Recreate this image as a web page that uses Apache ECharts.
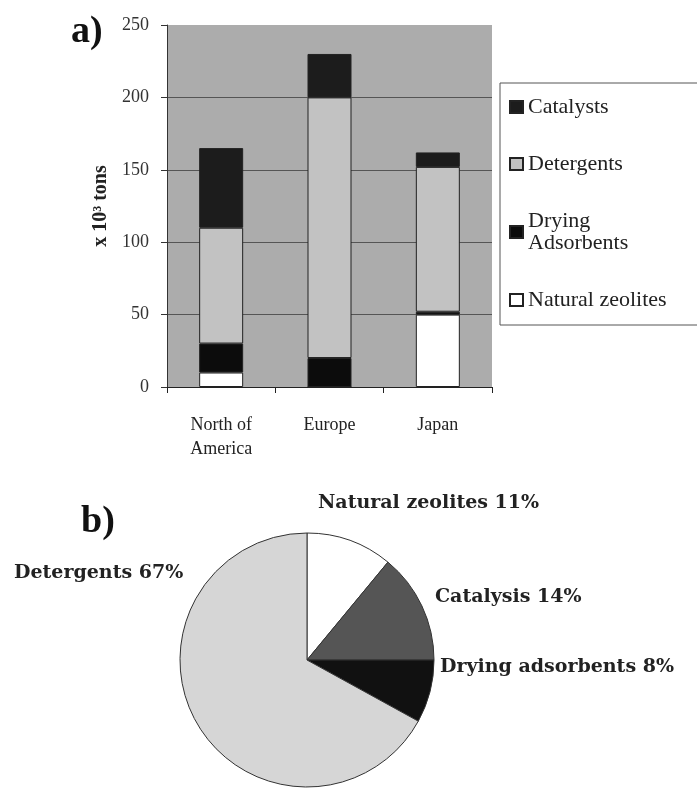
<!DOCTYPE html>
<html>
<head>
<meta charset="utf-8">
<script src="https://cdn.jsdelivr.net/npm/echarts@6/dist/echarts.min.js"></script>
<style>
  html, body { margin: 0; padding: 0; background: #ffffff; }
  #chart { width: 697px; height: 791px; }
</style>
</head>
<body>
<div id="chart"></div>
<script>
// ---- Data ----
const regions = ['North of\nAmerica', 'Europe', 'Japan'];
const naturalZeolites = [10, 0, 50];
const dryingAdsorbents = [20, 20, 2];
const detergents = [80, 180, 100];
const catalysts = [55, 30, 10];
const yTicks = [0, 50, 100, 150, 200, 250];

const pieNames = ['Natural zeolites', 'Catalysis', 'Drying adsorbents', 'Detergents'];
const pieValues = [11, 14, 8, 67];

// ---- Chart ----
const chart = echarts.init(document.getElementById('chart'), null, { renderer: 'canvas' });
const serif = 'Liberation Serif';
const barBorder = { borderColor: '#222', borderWidth: 1 };

const pieColors = ['#ffffff', '#555555', '#111111', '#d6d6d6'];
const pieLabelPos = [
  { x: 318, y: 503 },
  { x: 435, y: 597 },
  { x: 440, y: 667 },
  { x: 14, y: 573 }
];

const option = {
  backgroundColor: '#ffffff',
  animation: false,
  title: [
    { text: 'a)', left: 66, top: 8, textStyle: { fontFamily: serif, fontWeight: 'bold', fontSize: 38, color: '#111' } },
    { text: 'b)', left: 76, top: 498, textStyle: { fontFamily: serif, fontWeight: 'bold', fontSize: 38, color: '#111' } }
  ],
  legend: {
    orient: 'vertical',
    left: 500,
    top: 83,
    data: ['Catalysts', 'Detergents', 'Drying\nAdsorbents', 'Natural zeolites'],
    backgroundColor: '#ffffff',
    borderColor: '#555',
    borderWidth: 1,
    padding: [13, 45, 14, 9],
    itemGap: 35,
    itemWidth: 13,
    itemHeight: 12,
    icon: 'rect',
    textStyle: { fontFamily: serif, fontSize: 22, color: '#222', lineHeight: 22 }
  },
  grid: {
    left: 167, right: 205, top: 25, bottom: 404,
    show: true, backgroundColor: '#acacac', borderWidth: 0
  },
  xAxis: {
    type: 'category',
    data: regions,
    axisLine: { show: true, lineStyle: { color: '#222', width: 1 } },
    axisTick: { show: true, length: 6, lineStyle: { color: '#222' } },
    axisLabel: { fontFamily: serif, fontSize: 18, color: '#222', margin: 26, lineHeight: 24 }
  },
  yAxis: {
    type: 'value',
    min: 0, max: 250, interval: 50,
    name: 'x 10³ tons',
    nameLocation: 'middle',
    nameGap: 56,
    nameRotate: 90,
    nameTextStyle: { fontFamily: serif, fontWeight: 'bold', fontSize: 20, color: '#222' },
    axisLine: { show: true, lineStyle: { color: '#333', width: 1 } },
    axisTick: { show: true, length: 6, lineStyle: { color: '#333' } },
    axisLabel: { fontFamily: serif, fontSize: 18, color: '#333', margin: 18,
      formatter: v => (yTicks.indexOf(v) >= 0 ? String(v) : '') },
    splitLine: { show: true, lineStyle: { color: ['#555', '#555', '#555', '#555', '#555', 'rgba(0,0,0,0)'], width: 1 } }
  },
  series: [
    { name: 'Natural zeolites', type: 'bar', stack: 's', barWidth: 44, data: naturalZeolites,
      itemStyle: Object.assign({ color: '#ffffff' }, barBorder) },
    { name: 'Drying\nAdsorbents', type: 'bar', stack: 's', barWidth: 44, data: dryingAdsorbents,
      itemStyle: Object.assign({ color: '#0c0c0c' }, barBorder) },
    { name: 'Detergents', type: 'bar', stack: 's', barWidth: 44, data: detergents,
      itemStyle: Object.assign({ color: '#c2c2c2' }, barBorder) },
    { name: 'Catalysts', type: 'bar', stack: 's', barWidth: 44, data: catalysts,
      itemStyle: Object.assign({ color: '#1c1c1c' }, barBorder) },
    {
      name: 'pie', type: 'pie',
      center: [307, 660], radius: 127,
      startAngle: 90, clockwise: true,
      legendHoverLink: false,
      data: pieNames.map((n, i) => ({ name: n, value: pieValues[i], itemStyle: { color: pieColors[i] } })),
      itemStyle: { borderColor: '#333', borderWidth: 1 },
      label: {
        show: true,
        position: 'outside',
        overflow: 'none',
        width: 400,
        formatter: p => p.name + ' ' + p.value + '%',
        fontFamily: 'DejaVu Serif', fontWeight: 'bold', fontSize: 19, color: '#222'
      },
      labelLine: { show: false },
      labelLayout: p => {
        const pos = pieLabelPos[p.dataIndex];
        return { x: pos.x, y: pos.y, align: 'left', verticalAlign: 'middle' };
      }
    }
  ]
};
chart.setOption(option);
</script>
</body>
</html>
